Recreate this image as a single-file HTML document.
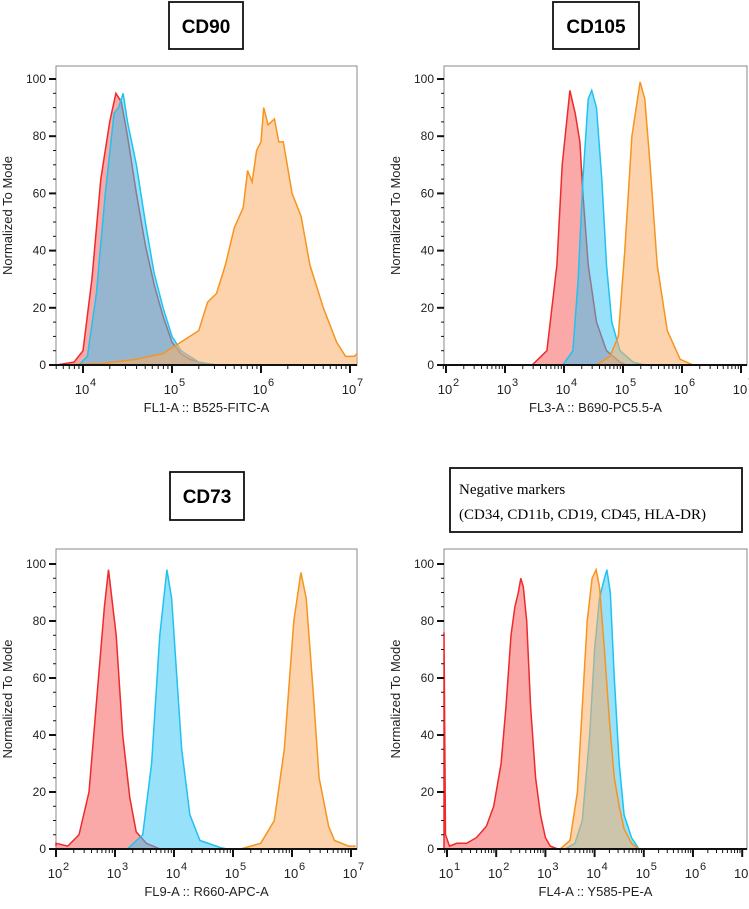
<!DOCTYPE html>
<html><head><meta charset="utf-8"><style>
body{margin:0;background:#fff;width:749px;height:909px;overflow:hidden;font-family:"Liberation Sans",sans-serif}
svg{position:absolute;left:0;top:0}
</style></head><body>
<svg id="c" width="749" height="909" font-family="Liberation Sans, sans-serif">
<g><rect x="169" y="2" width="74" height="47" fill="#fff" stroke="#111" stroke-width="1.8"/><text x="206" y="33" text-anchor="middle" font-size="19" font-weight="bold">CD90</text></g>
<g><rect x="553" y="2" width="86" height="47" fill="#fff" stroke="#111" stroke-width="1.8"/><text x="596" y="33" text-anchor="middle" font-size="19" font-weight="bold">CD105</text></g>
<g><rect x="170" y="472" width="74" height="48" fill="#fff" stroke="#111" stroke-width="1.8"/><text x="207" y="503" text-anchor="middle" font-size="19" font-weight="bold">CD73</text></g>
<g><rect x="450" y="468" width="292" height="64" fill="#fff" stroke="#111" stroke-width="1.8"/><text x="459" y="494" font-size="15" font-family="Liberation Serif, serif">Negative markers</text><text x="459" y="519" font-size="15" font-family="Liberation Serif, serif">(CD34, CD11b, CD19, CD45, HLA-DR)</text></g>
</svg>
<script>
// ---- data (x as log10 intensity, y as % of mode) ----
const p1RedX=[3.7,3.9,4.0,4.1,4.2,4.3,4.37,4.43,4.5,4.6,4.7,4.8,4.9,5.0,5.1,5.2,5.4,7.08];
const p1RedY=[0,1,5,30,65,85,95,92,80,60,42,28,17,8,4,2,0,0];
const p1BlueX=[3.7,3.95,4.05,4.15,4.25,4.35,4.4,4.45,4.5,4.6,4.7,4.8,4.9,5.0,5.1,5.3,5.5,7.08];
const p1BlueY=[0,0,3,25,60,88,90,95,85,70,50,32,20,10,5,1,0,0];
const p1OrX=[3.7,4.2,4.6,4.9,5.05,5.2,5.3,5.4,5.5,5.6,5.7,5.8,5.85,5.9,5.95,6.0,6.03,6.08,6.15,6.2,6.25,6.35,6.45,6.55,6.7,6.85,6.95,7.05,7.08];
const p1OrY=[0,0.5,2,4,7,10,12,22,25,35,48,55,68,64,75,78,90,84,86,78,78,60,52,35,20,8,3,3,4];
const p2RedX=[1.97,3.46,3.71,3.88,3.97,4.1,4.19,4.27,4.32,4.41,4.55,4.72,4.95,5.06,7.05];
const p2RedY=[0,0,5,35,70,96,88,78,60,35,15,5,1,0,0];
const p2BlueX=[1.97,3.98,4.15,4.24,4.32,4.41,4.47,4.55,4.64,4.72,4.81,4.95,5.17,5.37,7.05];
const p2BlueY=[0,0,5,30,65,93,96,90,65,35,15,5,1,0,0];
const p2OrX=[1.97,4.55,4.78,4.92,5.03,5.15,5.29,5.37,5.46,5.58,5.75,5.97,6.19,7.05];
const p2OrY=[0,0,3,10,40,80,99,93,70,35,12,2,0,0];
const p3RedX=[1.98,2.0,2.2,2.39,2.56,2.7,2.82,2.89,3.02,3.13,3.25,3.36,3.53,3.76,7.08];
const p3RedY=[1,2,1,5,20,55,85,98,75,40,18,6,2,0,0];
const p3BlueX=[1.98,3.21,3.47,3.62,3.76,3.88,3.96,4.05,4.13,4.27,4.44,4.79,4.9,7.08];
const p3BlueY=[0,0,5,30,75,98,88,60,35,12,3,0.5,0,0];
const p3OrX=[1.98,5.13,5.47,5.7,5.87,6.03,6.15,6.24,6.36,6.46,6.62,6.72,6.96,7.08];
const p3OrY=[0,0,2,10,35,80,97,88,55,25,8,3,1,1];
const p4RedX=[0.94,0.94,0.97,1.05,1.2,1.4,1.6,1.8,1.95,2.1,2.2,2.3,2.38,2.45,2.5,2.55,2.62,2.7,2.8,2.9,3.0,3.1,3.25,7.1];
const p4RedY=[0,76,5,1,2,2,4,8,15,30,50,75,85,90,95,92,80,50,25,12,4,1,0,0];
const p4OrX=[0.94,3.3,3.5,3.65,3.75,3.85,3.95,4.03,4.1,4.2,4.3,4.4,4.5,4.6,4.75,4.9,7.1];
const p4OrY=[0,0,3,20,50,80,95,98,92,70,45,25,15,7,2,0,0];
const p4BlueX=[0.94,3.4,3.6,3.75,3.9,4.0,4.1,4.2,4.25,4.32,4.4,4.5,4.6,4.75,4.9,7.1];
const p4BlueY=[0,0,2,10,40,70,88,95,98,90,60,30,12,4,0,0];
const yTicks=[0,20,40,60,80,100];

const NS='http://www.w3.org/2000/svg';
const svg=document.getElementById('c');
function mk(t,a,parent){const e=document.createElementNS(NS,t);for(const k in a)e.setAttribute(k,a[k]);(parent||svg).appendChild(e);return e;}
const COL={red:['#ee2a2a','rgba(246,110,110,0.6)'],blue:['#1ec3f0','rgba(50,195,245,0.5)'],orange:['#f7941d','rgba(250,175,105,0.55)']};

function panel(cfg){
  const g=mk('g',{});
  
  
  const L=cfg.L,R=cfg.R,T=cfg.T,B=cfg.B,Y100=cfg.Y100;
  const xs=v=>cfg.x0+(v-cfg.d0)*cfg.ppd;
  const ys=v=>B-(B-Y100)*v/100;
  mk('rect',{x:L,y:T,width:R-L,height:B-T,fill:'#fff',stroke:'#888','stroke-width':1},g);
  for(const s of cfg.series){
    let d='';
    for(let i=0;i<s.x.length;i++){const px=Math.min(R,Math.max(L,xs(s.x[i])));d+=(i?'L':'M')+px.toFixed(1)+','+ys(s.y[i]).toFixed(1);}
    const f=mk('path',{d:d+'L'+Math.min(R,xs(s.x[s.x.length-1])).toFixed(1)+','+B+'L'+Math.max(L,xs(s.x[0])).toFixed(1)+','+B+'Z',fill:COL[s.c][1],stroke:'none'},g);
    
    
    const l=mk('path',{d:d,fill:'none',stroke:COL[s.c][0],'stroke-width':1.5},g);
    
    
  }
  for(let v=0;v<=100;v+=5){const y=ys(v);const maj=v%20===0;mk('line',{x1:L-(maj?7:3),x2:L,y1:y,y2:y,stroke:'#111','stroke-width':maj?2:1},g);}
  for(const v of yTicks){const t=mk('text',{x:L-10,y:ys(v)+4,'text-anchor':'end','font-size':12,fill:'#222'},g);t.textContent=v;
    
    }
  const yl=mk('text',{x:0,y:0,transform:`translate(${L-44},${(T+B)/2}) rotate(-90)`,'text-anchor':'middle','font-size':13,fill:'#222'},g);
  yl.textContent='Normalized To Mode';
  
  
  mk('line',{x1:L,x2:R,y1:B,y2:B,stroke:'#111','stroke-width':2},g);
  for(let d=Math.floor(cfg.d0)-2;d<=8;d++){
    for(let m=1;m<10;m++){const x=xs(d+Math.log10(m));if(x<L-1||x>R+1)continue;
      mk('line',{x1:x,x2:x,y1:B,y2:B+(m===1?8:4),stroke:'#111','stroke-width':m===1?2:1},g);}
  }
  for(const d of cfg.labels){const x=xs(d);
    const t=mk('text',{x:x-1,y:B+29,'text-anchor':'middle','font-size':13,fill:'#222'},g);t.textContent='10';
    
    
    const s=mk('text',{x:x+7,y:B+21,'font-size':11,fill:'#222'},g);s.textContent=d;}
  const xl=mk('text',{x:(L+R)/2,y:B+47,'text-anchor':'middle','font-size':13,fill:'#222'},g);xl.textContent=cfg.xt;
  
  
}
panel({name:'cd90-panel',L:56,R:357,T:66,B:365,Y100:79,x0:83,d0:4,ppd:89,labels:[4,5,6,7],xt:'FL1-A :: B525-FITC-A',
  series:[{c:'red',x:p1RedX,y:p1RedY},{c:'blue',x:p1BlueX,y:p1BlueY},{c:'orange',x:p1OrX,y:p1OrY}]});
panel({name:'cd105-panel',L:444,R:747,T:66,B:365,Y100:79,x0:505,d0:3,ppd:59,labels:[2,3,4,5,6,7],xt:'FL3-A :: B690-PC5.5-A',
  series:[{c:'red',x:p2RedX,y:p2RedY},{c:'blue',x:p2BlueX,y:p2BlueY},{c:'orange',x:p2OrX,y:p2OrY}]});
panel({name:'cd73-panel',L:56,R:357,T:549,B:849,Y100:564,x0:115,d0:3,ppd:59,labels:[2,3,4,5,6,7],xt:'FL9-A :: R660-APC-A',
  series:[{c:'red',x:p3RedX,y:p3RedY},{c:'blue',x:p3BlueX,y:p3BlueY},{c:'orange',x:p3OrX,y:p3OrY}]});
panel({name:'negative-markers-panel',L:444,R:747,T:549,B:849,Y100:564,x0:447,d0:1,ppd:49.2,labels:[1,2,3,4,5,6,7],xt:'FL4-A :: Y585-PE-A',
  series:[{c:'red',x:p4RedX,y:p4RedY},{c:'blue',x:p4BlueX,y:p4BlueY},{c:'orange',x:p4OrX,y:p4OrY}]});
</script>
</body></html>
